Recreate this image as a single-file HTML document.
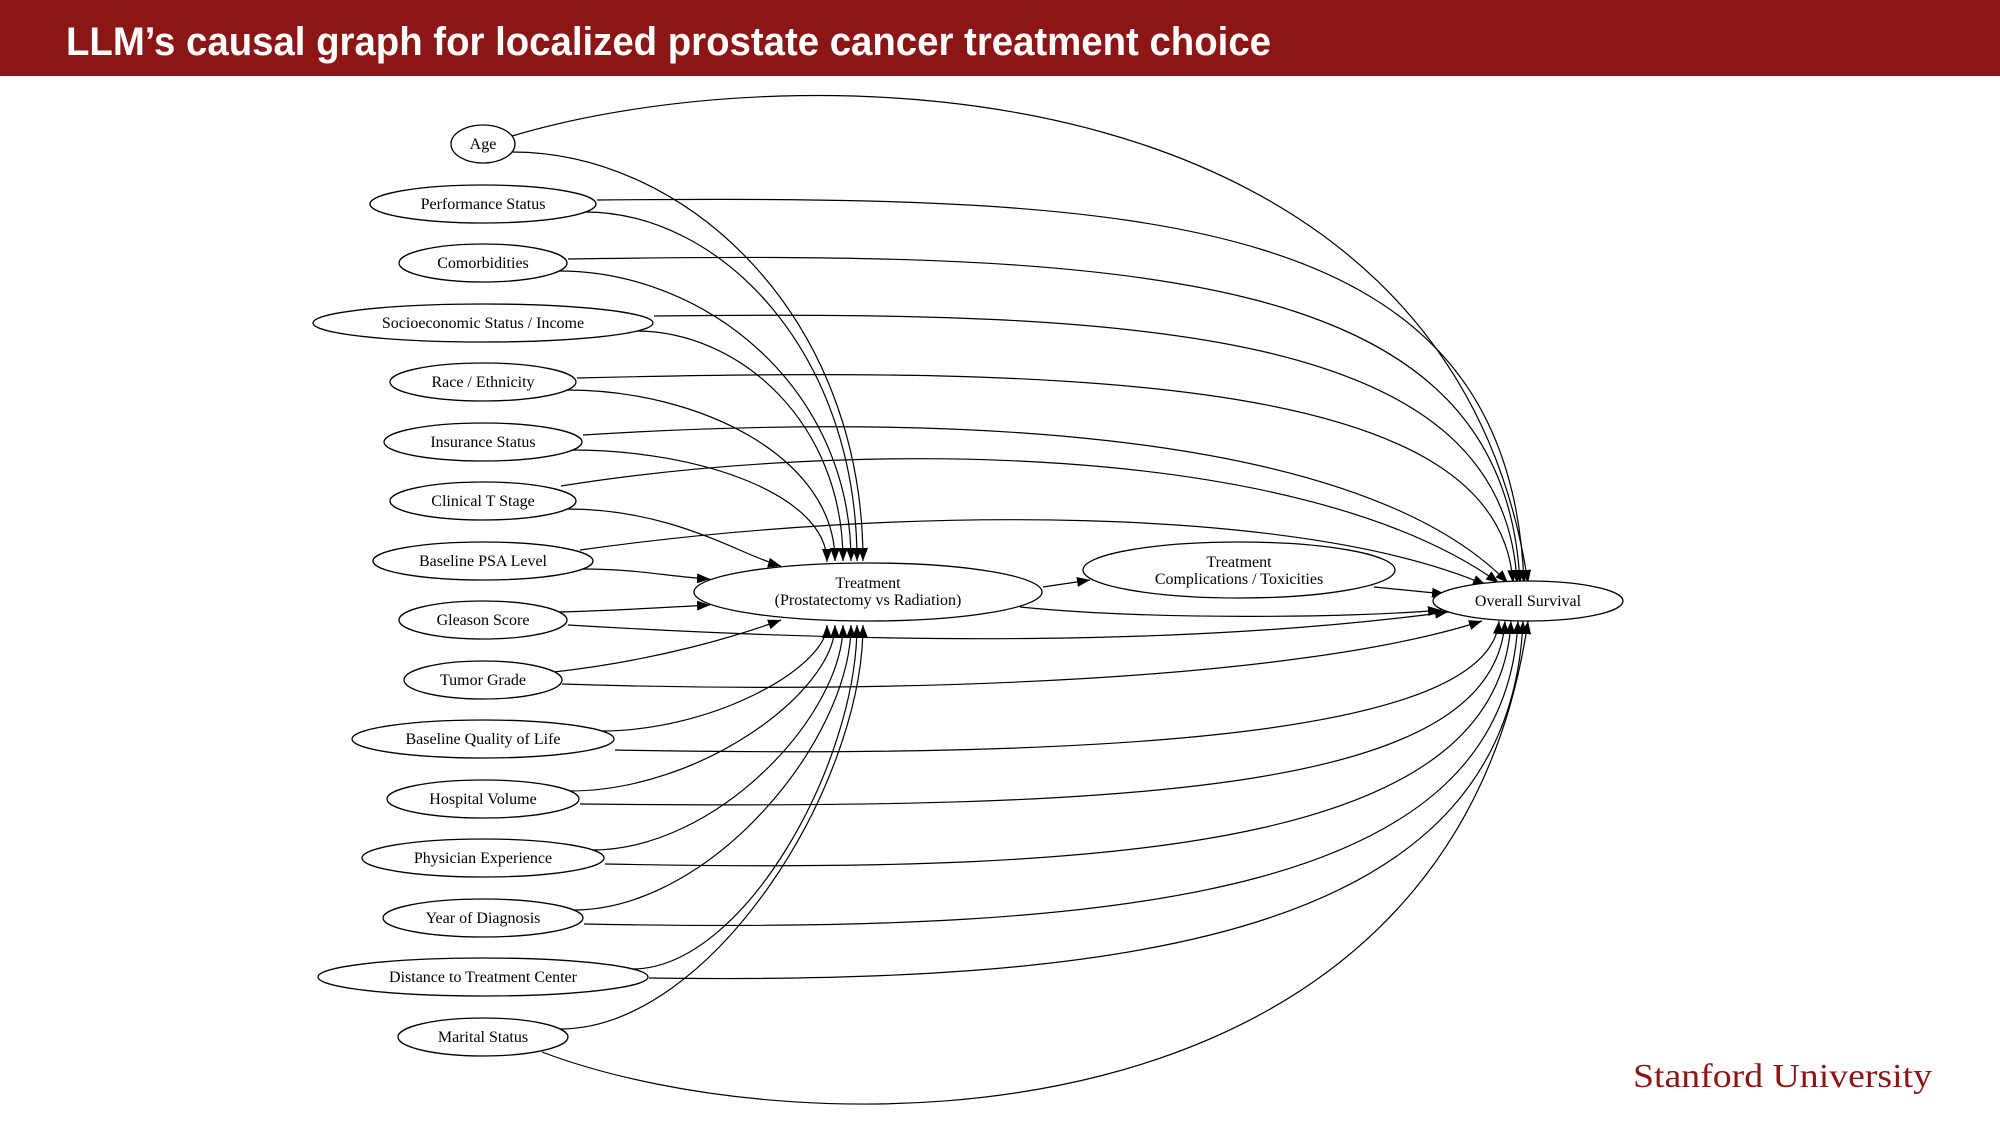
<!DOCTYPE html>
<html><head><meta charset="utf-8"><style>
html,body{margin:0;padding:0;background:#fff;}
svg{display:block;}
.n{fill:#fff;stroke:#000;stroke-width:1.3;}
.t{font-family:"Liberation Serif",serif;font-size:16px;text-anchor:middle;fill:#000;}
.e{fill:none;stroke:#000;stroke-width:1.2;marker-end:url(#a);}
</style></head><body>
<svg width="2000" height="1125" viewBox="0 0 2000 1125" xmlns="http://www.w3.org/2000/svg">
<defs><marker id="a" markerUnits="userSpaceOnUse" markerWidth="14" markerHeight="10" refX="13" refY="5" orient="auto"><path d="M0,0 L13,5 L0,10 z" fill="#000"/></marker></defs>
<rect x="0" y="0" width="2000" height="76" fill="#8c1515"/>
<text x="66" y="55" font-family="Liberation Sans, sans-serif" font-weight="bold" font-size="40" fill="#fff" textLength="1205" lengthAdjust="spacingAndGlyphs">LLM’s causal graph for localized prostate cancer treatment choice</text>
<text x="1633" y="1087" font-family="Liberation Serif, serif" font-size="34" fill="#8c1515" textLength="299" lengthAdjust="spacingAndGlyphs">Stanford University</text>

<!-- edges to Treatment -->
<path class="e" d="M512,152 C687,152 863,316 863,561"/>
<path class="e" d="M585,212 C721,212 857,352 857,561"/>
<path class="e" d="M559,271 C705,271 851,387 851,561"/>
<path class="e" d="M636,331 C740,331 843,423 843,561"/>
<path class="e" d="M567,390 C701,390 835,458 835,561"/>
<path class="e" d="M572,450 C700,450 827,495 827,562"/>
<path class="e" d="M567,509 C674,509 740,555 781,566"/>
<path class="e" d="M582,569 C640,569 670,577 710,579"/>
<path class="e" d="M559,612 C630,610 670,607 710,605"/>
<path class="e" d="M554,672 C660,660 740,635 781,620"/>
<path class="e" d="M601,731 C714,731 827,667 827,625"/>
<path class="e" d="M569,791 C702,791 835,691 835,625"/>
<path class="e" d="M592,850 C717,850 843,715 843,625"/>
<path class="e" d="M573,910 C712,910 851,739 851,625"/>
<path class="e" d="M632,969 C744,969 857,763 857,625"/>
<path class="e" d="M560,1029 C711,1029 863,787 863,625"/>

<!-- edges to Overall Survival -->
<path class="e" d="M512,136 C800,50 1450,60 1528,583"/>
<path class="e" d="M597,200 C1150,195 1510,210 1524,583"/>
<path class="e" d="M568,259 C1150,250 1505,270 1520,583"/>
<path class="e" d="M654,316 C1150,310 1505,330 1517,583"/>
<path class="e" d="M577,378 C1100,365 1500,380 1513,583"/>
<path class="e" d="M583,435 C900,415 1350,420 1508,583"/>
<path class="e" d="M561,486 C850,440 1300,440 1499,583"/>
<path class="e" d="M580,550 C900,505 1300,505 1486,585"/>
<path class="e" d="M568,625 C900,645 1200,645 1448,612"/>
<path class="e" d="M562,684 C900,695 1300,680 1482,621"/>
<path class="e" d="M615,750 C1150,760 1490,730 1499,621"/>
<path class="e" d="M580,804 C1150,810 1495,790 1505,621"/>
<path class="e" d="M605,864 C1150,875 1500,840 1511,621"/>
<path class="e" d="M584,924 C1150,935 1505,890 1518,621"/>
<path class="e" d="M649,978 C1150,985 1510,930 1523,621"/>
<path class="e" d="M542,1052 C800,1150 1450,1160 1528,621"/>

<path class="e" d="M1043,587 L1090,580"/>
<path class="e" d="M1020,607 C1150,620 1350,618 1441,610"/>
<path class="e" d="M1374,587 L1445,594"/>

<!-- nodes -->
<ellipse class="n" cx="483" cy="144" rx="32" ry="19"/><text class="t" x="483" y="149">Age</text>
<ellipse class="n" cx="483" cy="204" rx="113" ry="19"/><text class="t" x="483" y="209">Performance Status</text>
<ellipse class="n" cx="483" cy="263" rx="84" ry="19"/><text class="t" x="483" y="268">Comorbidities</text>
<ellipse class="n" cx="483" cy="323" rx="170" ry="19"/><text class="t" x="483" y="328">Socioeconomic Status / Income</text>
<ellipse class="n" cx="483" cy="382" rx="93" ry="19"/><text class="t" x="483" y="387">Race / Ethnicity</text>
<ellipse class="n" cx="483" cy="442" rx="99" ry="19"/><text class="t" x="483" y="447">Insurance Status</text>
<ellipse class="n" cx="483" cy="501" rx="93" ry="19"/><text class="t" x="483" y="506">Clinical T Stage</text>
<ellipse class="n" cx="483" cy="561" rx="110" ry="19"/><text class="t" x="483" y="566">Baseline PSA Level</text>
<ellipse class="n" cx="483" cy="620" rx="84" ry="19"/><text class="t" x="483" y="625">Gleason Score</text>
<ellipse class="n" cx="483" cy="680" rx="79" ry="19"/><text class="t" x="483" y="685">Tumor Grade</text>
<ellipse class="n" cx="483" cy="739" rx="131" ry="19"/><text class="t" x="483" y="744">Baseline Quality of Life</text>
<ellipse class="n" cx="483" cy="799" rx="96" ry="19"/><text class="t" x="483" y="804">Hospital Volume</text>
<ellipse class="n" cx="483" cy="858" rx="121" ry="19"/><text class="t" x="483" y="863">Physician Experience</text>
<ellipse class="n" cx="483" cy="918" rx="100" ry="19"/><text class="t" x="483" y="923">Year of Diagnosis</text>
<ellipse class="n" cx="483" cy="977" rx="165" ry="19"/><text class="t" x="483" y="982">Distance to Treatment Center</text>
<ellipse class="n" cx="483" cy="1037" rx="85" ry="19"/><text class="t" x="483" y="1042">Marital Status</text>

<ellipse class="n" cx="868" cy="592" rx="174" ry="29"/>
<text class="t" x="868" y="588">Treatment</text><text class="t" x="868" y="605">(Prostatectomy vs Radiation)</text>
<ellipse class="n" cx="1239" cy="570" rx="156" ry="28"/>
<text class="t" x="1239" y="567">Treatment</text><text class="t" x="1239" y="584">Complications / Toxicities</text>
<ellipse class="n" cx="1528" cy="601" rx="95" ry="20"/><text class="t" x="1528" y="606">Overall Survival</text>
</svg>
</body></html>
